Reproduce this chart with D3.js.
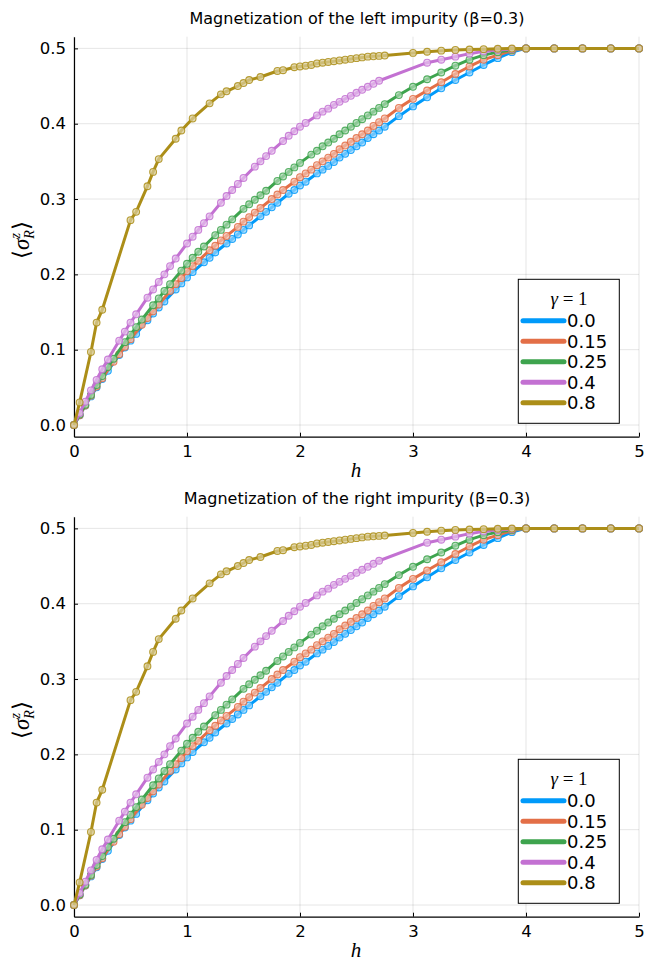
<!DOCTYPE html>
<html><head><meta charset="utf-8">
<script src="https://cdn.jsdelivr.net/npm/d3@7"></script>
<style>body{margin:0;background:#fff}</style>
</head><body><svg id="c" width="652" height="962"></svg>
<script>
// ---- data ----
const gammaLabels = ["0.0", "0.15", "0.25", "0.4", "0.8"];
const legendTitle = "γ = 1";
const panelTitles = ["Magnetization of the left impurity (β=0.3)", "Magnetization of the right impurity (β=0.3)"];
const xTicks = [0, 1, 2, 3, 4, 5];
const yTicks = [0, 0.1, 0.2, 0.3, 0.4, 0.5];

const s_00 = [[0,0],[0.05,0.013],[0.1,0.026],[0.15,0.038],[0.2,0.050],[0.25,0.061],[0.3,0.072],[0.4,0.093],[0.45,0.103],[0.5,0.112],[0.55,0.121],[0.65,0.139],[0.7,0.148],[0.75,0.156],[0.8,0.164],[0.9,0.180],[0.95,0.188],[1.0,0.196],[1.05,0.203],[1.15,0.216],[1.2,0.222],[1.25,0.229],[1.35,0.241],[1.4,0.247],[1.45,0.253],[1.5,0.259],[1.55,0.265],[1.65,0.277],[1.7,0.283],[1.75,0.289],[1.8,0.295],[1.9,0.307],[1.95,0.312],[2.0,0.318],[2.05,0.323],[2.15,0.334],[2.2,0.339],[2.25,0.344],[2.3,0.349],[2.35,0.355],[2.4,0.360],[2.45,0.365],[2.5,0.370],[2.55,0.375],[2.6,0.381],[2.65,0.386],[2.7,0.391],[2.75,0.396],[2.875,0.410],[3.0,0.423],[3.125,0.435],[3.25,0.447],[3.375,0.458],[3.5,0.468],[3.625,0.478],[3.75,0.487],[3.875,0.495],[4.0,0.5],[4.25,0.5],[4.5,0.5],[4.75,0.5],[5.0,0.5]];

const s_015 = [[0,0],[0.05,0.013],[0.1,0.026],[0.15,0.039],[0.2,0.051],[0.25,0.062],[0.35,0.084],[0.4,0.094],[0.45,0.104],[0.5,0.114],[0.6,0.133],[0.65,0.142],[0.7,0.151],[0.75,0.160],[0.85,0.178],[0.9,0.187],[0.95,0.195],[1.0,0.204],[1.05,0.211],[1.1,0.218],[1.2,0.232],[1.25,0.238],[1.3,0.245],[1.35,0.251],[1.45,0.263],[1.5,0.270],[1.55,0.276],[1.6,0.282],[1.65,0.288],[1.75,0.300],[1.8,0.306],[1.85,0.312],[1.95,0.323],[2.0,0.329],[2.05,0.334],[2.1,0.339],[2.15,0.345],[2.2,0.350],[2.25,0.355],[2.3,0.360],[2.35,0.366],[2.4,0.371],[2.45,0.376],[2.5,0.381],[2.55,0.386],[2.6,0.391],[2.65,0.397],[2.7,0.402],[2.75,0.407],[2.875,0.421],[3.0,0.433],[3.125,0.444],[3.25,0.455],[3.375,0.466],[3.5,0.476],[3.625,0.485],[3.75,0.491],[3.875,0.497],[4.0,0.5],[4.25,0.5],[4.5,0.5],[4.75,0.5],[5.0,0.5]];

const s_025 = [[0,0],[0.05,0.014],[0.1,0.027],[0.15,0.040],[0.2,0.053],[0.25,0.065],[0.3,0.077],[0.35,0.088],[0.45,0.110],[0.5,0.120],[0.55,0.130],[0.6,0.140],[0.7,0.159],[0.75,0.168],[0.8,0.178],[0.85,0.187],[0.95,0.205],[1.0,0.214],[1.05,0.222],[1.1,0.230],[1.15,0.237],[1.25,0.252],[1.3,0.259],[1.35,0.266],[1.4,0.273],[1.5,0.287],[1.55,0.293],[1.6,0.299],[1.65,0.305],[1.7,0.311],[1.8,0.324],[1.85,0.330],[1.9,0.336],[1.95,0.342],[2.0,0.348],[2.1,0.359],[2.15,0.364],[2.2,0.370],[2.25,0.375],[2.3,0.380],[2.35,0.386],[2.4,0.391],[2.45,0.396],[2.5,0.401],[2.55,0.406],[2.6,0.411],[2.65,0.416],[2.7,0.421],[2.75,0.426],[2.875,0.438],[3.0,0.449],[3.125,0.459],[3.25,0.468],[3.375,0.477],[3.5,0.485],[3.625,0.491],[3.75,0.495],[3.875,0.498],[4.0,0.5],[4.25,0.5],[4.5,0.5],[4.75,0.5],[5.0,0.5]];

const s_04 = [[0,0],[0.05,0.016],[0.1,0.031],[0.15,0.046],[0.2,0.060],[0.25,0.074],[0.3,0.087],[0.4,0.112],[0.45,0.124],[0.5,0.136],[0.55,0.147],[0.65,0.169],[0.7,0.180],[0.75,0.190],[0.8,0.200],[0.85,0.211],[0.9,0.221],[1.0,0.241],[1.05,0.250],[1.1,0.259],[1.15,0.268],[1.2,0.277],[1.3,0.295],[1.35,0.304],[1.4,0.312],[1.45,0.320],[1.5,0.328],[1.6,0.343],[1.65,0.350],[1.7,0.357],[1.75,0.364],[1.85,0.377],[1.9,0.384],[1.95,0.390],[2.0,0.396],[2.05,0.401],[2.15,0.411],[2.2,0.416],[2.25,0.420],[2.3,0.425],[2.35,0.429],[2.4,0.433],[2.45,0.437],[2.5,0.441],[2.55,0.445],[2.6,0.449],[2.65,0.453],[2.7,0.457],[3.125,0.481],[3.25,0.485],[3.375,0.489],[3.5,0.493],[3.625,0.496],[3.75,0.498],[3.875,0.499],[4.0,0.5],[4.25,0.5],[4.5,0.5],[4.75,0.5],[5.0,0.5]];

const s_08 = [[0,0],[0.05,0.030],[0.15,0.097],[0.2,0.136],[0.25,0.153],[0.5,0.272],[0.55,0.283],[0.65,0.317],[0.7,0.336],[0.75,0.353],[0.9,0.380],[0.95,0.391],[1.05,0.407],[1.2,0.427],[1.3,0.439],[1.35,0.443],[1.45,0.450],[1.5,0.454],[1.55,0.458],[1.65,0.462],[1.8,0.470],[1.85,0.471],[1.95,0.475],[2.0,0.476],[2.05,0.477],[2.1,0.478],[2.15,0.480],[2.2,0.481],[2.25,0.482],[2.3,0.483],[2.35,0.484],[2.4,0.485],[2.45,0.486],[2.5,0.487],[2.55,0.488],[2.6,0.489],[2.65,0.4895],[2.7,0.490],[2.75,0.4905],[3.0,0.494],[3.125,0.4955],[3.25,0.497],[3.375,0.498],[3.5,0.4985],[3.625,0.499],[3.75,0.4995],[3.875,0.4998],[4.0,0.5],[4.25,0.5],[4.5,0.5],[4.75,0.5],[5.0,0.5]];

const leftSeries = [s_00, s_015, s_025, s_04, s_08];
const rightSeries = [s_00, s_015, s_025, s_04, s_08];

// ---- style ----
const colors = ["#009AFA", "#E36F47", "#3EA44E", "#C371D2", "#AC8E18"];
const SANS = "DejaVu Sans, sans-serif";
const SERIF = "Liberation Serif, DejaVu Serif, serif";

const svg = d3.select("#c");
svg.append("rect").attr("width", 652).attr("height", 962).attr("fill", "#fff");

[leftSeries, rightSeries].forEach((seriesList, pi) => {
  const g = svg.append("g").attr("transform", `translate(0,${pi * 480})`);
  const x = d3.scaleLinear().domain([0, 5]).range([74, 639]);
  const y = d3.scaleLinear().domain([-0.0155, 0.5155]).range([436.7, 36.7]);
  const [top, bot] = [36.7, 436.7];

  // grid
  g.append("g").selectAll("line").data(xTicks).join("line")
    .attr("x1", d => x(d)).attr("x2", d => x(d)).attr("y1", top).attr("y2", bot)
    .attr("stroke", "#000").attr("stroke-opacity", 0.1).attr("stroke-width", 1);
  g.append("g").selectAll("line").data(yTicks).join("line")
    .attr("y1", d => y(d)).attr("y2", d => y(d)).attr("x1", 74).attr("x2", 639)
    .attr("stroke", "#000").attr("stroke-opacity", 0.1).attr("stroke-width", 1);

  // axes
  const xa = g.append("g").attr("transform", `translate(0,${bot})`)
    .call(d3.axisBottom(x).tickValues(xTicks).tickFormat(d3.format("d"))
      .tickSizeInner(-4).tickSizeOuter(0).tickPadding(9));
  const ya = g.append("g").attr("transform", `translate(74,0)`)
    .call(d3.axisLeft(y).tickValues(yTicks).tickFormat(d3.format(".1f"))
      .tickSizeInner(-4).tickSizeOuter(0).tickPadding(8));
  [xa, ya].forEach(a => {
    a.select(".domain").attr("stroke", "#000").attr("stroke-width", 1.2);
    a.selectAll(".tick line").attr("stroke", "#000");
    a.selectAll("text").attr("font-family", SANS).attr("font-size", 16.5).attr("fill", "#000");
  });

  // series
  const line = d3.line().x(d => x(d[0])).y(d => y(d[1]));
  seriesList.forEach((s, i) => {
    const c = colors[i];
    g.append("path").datum(s).attr("d", line).attr("fill", "none")
      .attr("stroke", c).attr("stroke-width", 3).attr("stroke-linejoin", "round");
    g.append("g").selectAll("circle").data(s).join("circle")
      .attr("cx", d => x(d[0])).attr("cy", d => y(d[1])).attr("r", 3.4)
      .attr("fill", d3.interpolateRgb(c, "#fff")(0.55)).attr("fill-opacity", 0.75)
      .attr("stroke", c).attr("stroke-width", 1.1).attr("stroke-opacity", 0.85);
  });

  // title
  g.append("text").attr("x", 357).attr("y", 24).attr("text-anchor", "middle")
    .attr("font-family", SANS).attr("font-size", 16).text(panelTitles[pi]);

  // x label
  g.append("text").attr("x", 356).attr("y", 477).attr("text-anchor", "middle")
    .attr("font-family", SERIF).attr("font-style", "italic").attr("font-size", 21).text("h");

  // y label
  const yl = g.append("text").attr("transform", "translate(29,240) rotate(-90)")
    .attr("text-anchor", "middle").attr("font-family", SERIF).attr("font-size", 23);
  yl.append("tspan").text("⟨");
  yl.append("tspan").attr("font-style", "italic").text("σ");
  yl.append("tspan").attr("font-style", "italic").attr("font-size", 14).attr("dy", -9).text("z");
  yl.append("tspan").attr("font-style", "italic").attr("font-size", 14).attr("dx", -5.5).attr("dy", 14).text("R");
  yl.append("tspan").attr("dy", -5).text("⟩");

  // legend
  const lg = g.append("g");
  lg.append("rect").attr("x", 518.3).attr("y", 279.3).attr("width", 101).attr("height", 144)
    .attr("fill", "#fff").attr("stroke", "#000").attr("stroke-width", 1);
  const lt = lg.append("text").attr("x", 569).attr("y", 305).attr("text-anchor", "middle")
    .attr("font-family", SERIF).attr("font-size", 19);
  lt.append("tspan").attr("font-style", "italic").text(legendTitle.split(" ")[0]);
  lt.append("tspan").text(" " + legendTitle.split(" ").slice(1).join(" "));
  gammaLabels.forEach((lab, i) => {
    const yy = 320.7 + i * 20.5;
    lg.append("line").attr("x1", 523).attr("x2", 564).attr("y1", yy).attr("y2", yy)
      .attr("stroke", colors[i]).attr("stroke-width", 5).attr("stroke-linecap", "round");
    lg.append("text").attr("x", 567).attr("y", yy + 6.6).attr("font-family", SANS)
      .attr("font-size", 18).text(lab);
  });
});
</script></body></html>
